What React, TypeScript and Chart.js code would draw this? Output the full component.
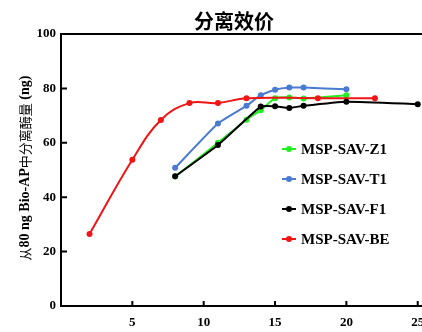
import React, { useEffect, useRef } from "react";
import { Chart, registerables } from "chart.js";

Chart.register(...registerables);

const titleText = "分离效价";
const yTitleParts = [
  { text: "从", cjk: true },
  { text: "80 ng Bio-AP", cjk: false },
  { text: "中分离酶量", cjk: true },
  { text: " (ng)", cjk: false },
];

const seriesNames = ["MSP-SAV-Z1", "MSP-SAV-T1", "MSP-SAV-F1", "MSP-SAV-BE"];
const seriesColors = ["#22ee22", "#4a7bd0", "#000000", "#f01414"];

const z1X = [8, 11, 13, 14, 15, 16, 17, 20];
const z1Y = [47.6, 60.0, 68.5, 72.0, 76.4, 76.7, 76.3, 77.5];
const t1X = [8, 11, 13, 14, 15, 16, 17, 20];
const t1Y = [50.8, 67.1, 73.6, 77.5, 79.5, 80.3, 80.3, 79.7];
const f1X = [8, 11, 14, 15, 16, 17, 20, 25];
const f1Y = [47.7, 59.2, 73.3, 73.4, 72.8, 73.6, 75.1, 74.2];
const beX = [2, 5, 7, 9, 11, 13, 18, 22];
const beY = [26.5, 53.8, 68.4, 74.6, 74.6, 76.4, 76.4, 76.4];

const xTickValues = [5, 10, 15, 20, 25];
const yTickValues = [0, 20, 40, 60, 80, 100];

const serif = "'Liberation Serif', 'Times New Roman', serif";
const cjk = "'Noto Sans CJK SC', sans-serif";

const toPts = (xs: number[], ys: number[]) => xs.map((x, i) => ({ x, y: ys[i] }));

const decor = {
  id: "decor",
  afterDraw(chart: any) {
    const { ctx, chartArea, scales } = chart;
    ctx.save();
    ctx.strokeStyle = "#000";
    ctx.lineWidth = 2;
    ctx.beginPath();
    ctx.moveTo(chartArea.left - 1, chartArea.top);
    ctx.lineTo(chartArea.right, chartArea.top);
    for (const v of yTickValues) {
      const py = scales.y.getPixelForValue(v);
      ctx.moveTo(chartArea.left, py);
      ctx.lineTo(chartArea.left + 6, py);
    }
    for (const v of xTickValues) {
      const px = scales.x.getPixelForValue(v);
      ctx.moveTo(px, chartArea.bottom);
      ctx.lineTo(px, chartArea.bottom - 5);
    }
    ctx.stroke();

    // title
    ctx.fillStyle = "#000";
    ctx.font = `bold 20px ${cjk}`;
    ctx.textAlign = "center";
    ctx.textBaseline = "middle";
    ctx.fillText(titleText, 234, 21);

    // y title
    const fonts = yTitleParts.map((p) => (p.cjk ? `13px ${cjk}` : `bold 14px ${serif}`));
    let total = 0;
    const widths = yTitleParts.map((p, i) => {
      ctx.font = fonts[i];
      const w = ctx.measureText(p.text).width;
      total += w;
      return w;
    });
    ctx.translate(25, 168);
    ctx.rotate(-Math.PI / 2);
    ctx.textAlign = "left";
    let cx = -total / 2;
    yTitleParts.forEach((p, i) => {
      ctx.font = fonts[i];
      ctx.fillText(p.text, cx, 0);
      cx += widths[i];
    });
    ctx.setTransform(1, 0, 0, 1, 0, 0);

    // legend
    const legendY = [149, 179, 209, 239];
    seriesNames.forEach((name, i) => {
      const y = legendY[i];
      ctx.strokeStyle = seriesColors[i];
      ctx.fillStyle = seriesColors[i];
      ctx.lineWidth = 2;
      ctx.beginPath();
      ctx.moveTo(282, y);
      ctx.lineTo(296, y);
      ctx.stroke();
      ctx.beginPath();
      ctx.arc(289, y, 3, 0, Math.PI * 2);
      ctx.fill();
      ctx.fillStyle = "#000";
      ctx.font = `bold 15px ${serif}`;
      ctx.textAlign = "left";
      ctx.textBaseline = "middle";
      ctx.fillText(name, 301, y + 1);
    });
    ctx.restore();
  },
};

export default function App() {
  const ref = useRef<HTMLCanvasElement>(null);
  useEffect(() => {
    if (!ref.current) return;
    const allX = [z1X, t1X, f1X, beX];
    const allY = [z1Y, t1Y, f1Y, beY];
    const orders = [3, 2, 0, 1];
    const tensions = [0.15, 0.15, 0.15, 0.4];
    const chart = new Chart(ref.current, {
      type: "line",
      data: {
        datasets: seriesNames.map((name, i) => ({
          label: name,
          data: toPts(allX[i], allY[i]),
          borderColor: seriesColors[i],
          backgroundColor: seriesColors[i],
          borderWidth: 2,
          pointRadius: 3,
          pointHoverRadius: 3,
          pointBorderWidth: 0,
          tension: tensions[i],
          order: orders[i],
          fill: false,
        })),
      },
      options: {
        responsive: false,
        animation: false,
        events: [],
        layout: { padding: { top: 34, right: 8, left: 0, bottom: 0 } },
        plugins: { legend: { display: false }, title: { display: false }, tooltip: { enabled: false } },
        scales: {
          x: {
            type: "linear",
            min: 0,
            max: 26,
            afterBuildTicks: (s: any) => {
              s.ticks = xTickValues.map((v) => ({ value: v }));
            },
            afterFit: (s: any) => {
              s.height = 26;
            },
            grid: { display: true, drawOnChartArea: false, drawTicks: false },
            border: { display: true, color: "#000", width: 2 },
            ticks: {
              padding: 9,
              maxRotation: 0,
              color: "#000",
              font: { family: serif, size: 13, weight: "bold" },
            },
          },
          y: {
            type: "linear",
            min: 0,
            max: 100,
            afterBuildTicks: (s: any) => {
              s.ticks = yTickValues.map((v) => ({ value: v }));
            },
            afterFit: (s: any) => {
              s.width = 61;
            },
            grid: { display: true, drawOnChartArea: false, drawTicks: false },
            border: { display: true, color: "#000", width: 2 },
            ticks: {
              padding: 5,
              color: "#000",
              font: { family: serif, size: 13, weight: "bold" },
            },
          },
        },
      },
      plugins: [decor],
    });
    return () => chart.destroy();
  }, []);
  return (
    <div style={{ position: "fixed", left: 0, top: 0, width: 422, height: 332, overflow: "hidden", background: "#fff" }}>
      <canvas ref={ref} width={440} height={332} style={{ width: 440, height: 332, display: "block" }} />
    </div>
  );
}
